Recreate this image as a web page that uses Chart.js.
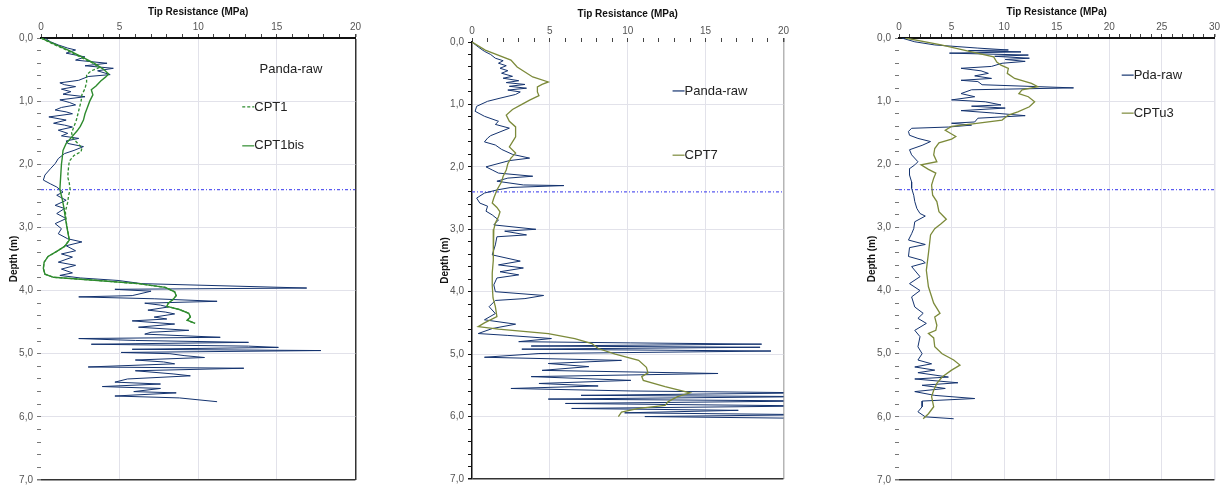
<!DOCTYPE html>
<html>
<head>
<meta charset="utf-8">
<script src="https://cdn.jsdelivr.net/npm/chart.js@4.4.1/dist/chart.umd.min.js"></script>
<style>
  html, body { margin: 0; padding: 0; background: #fff; }
  body { position: relative; width: 1223px; height: 491px; overflow: hidden; }
  canvas { position: absolute; top: 0; }
</style>
</head>
<body>
<canvas id="chart1" width="362" height="491" style="left:0px"></canvas>
<canvas id="chart2" width="359" height="491" style="left:431px"></canvas>
<canvas id="chart3" width="363" height="491" style="left:858px"></canvas>
<script>
// each entry: [depth (m), tip resistance (MPa)]
const waterDepth = 2.4;

// panel 1
const p1Panda = [
  [0.00, 0.25], [0.06, 0.6], [0.11, 1.1], [0.16, 1.7], [0.19, 2.2], [0.24, 1.6], [0.30, 2.8], [0.35, 2.2],
  [0.40, 4.2], [0.44, 2.8], [0.48, 4.6], [0.52, 3.6], [0.58, 4.4], [0.61, 3.0], [0.67, 2.4], [0.71, 1.2],
  [0.74, 1.5], [0.77, 2.2], [0.81, 1.3], [0.85, 1.9], [0.89, 1.4], [0.93, 2.8], [0.98, 1.2], [1.02, 1.8],
  [1.06, 2.2], [1.10, 1.3], [1.14, 0.9], [1.17, 1.6], [1.20, 2.0], [1.25, 0.5], [1.30, 1.6], [1.35, 0.8],
  [1.38, 1.5], [1.41, 2.0], [1.46, 1.1], [1.51, 1.7], [1.55, 1.3], [1.59, 2.4], [1.63, 1.6], [1.67, 1.7],
  [1.72, 2.7], [1.78, 2.1], [1.83, 1.5], [1.91, 1.1], [1.99, 0.9], [2.07, 0.6], [2.17, 0.25], [2.25, 0.15],
  [2.31, 0.6], [2.36, 1.0], [2.44, 1.4], [2.49, 1.0], [2.57, 1.6], [2.65, 0.9], [2.70, 1.5], [2.78, 1.0],
  [2.86, 1.6], [2.94, 0.9], [3.02, 1.3], [3.10, 1.1], [3.18, 1.7], [3.23, 2.6], [3.29, 1.6], [3.37, 2.2],
  [3.42, 1.3], [3.47, 2.0], [3.55, 1.1], [3.60, 2.2], [3.66, 1.3], [3.72, 2.0], [3.76, 1.2], [3.80, 2.5],
  [3.84, 4.9], [3.89, 6.4], [3.96, 16.9], [3.98, 4.7], [4.01, 7.0], [4.08, 5.8], [4.10, 2.4], [4.13, 7.2],
  [4.17, 11.2], [4.20, 6.6], [4.23, 7.6], [4.26, 8.1], [4.31, 6.8], [4.34, 7.9], [4.37, 8.5], [4.42, 7.2],
  [4.45, 8.0], [4.48, 5.8], [4.53, 8.5], [4.58, 6.2], [4.63, 9.4], [4.66, 7.0], [4.69, 6.6], [4.74, 11.4],
  [4.76, 2.4], [4.79, 6.0], [4.82, 13.2], [4.85, 3.2], [4.88, 13.2], [4.90, 15.1], [4.93, 5.8], [4.95, 17.8],
  [4.98, 5.1], [5.00, 8.2], [5.03, 9.1], [5.06, 10.4], [5.10, 6.0], [5.13, 7.8], [5.16, 8.5], [5.21, 3.0],
  [5.23, 12.9], [5.27, 6.0], [5.32, 8.4], [5.35, 9.5], [5.40, 5.5], [5.45, 4.7], [5.48, 7.6], [5.52, 3.9],
  [5.55, 7.6], [5.60, 5.9], [5.62, 8.6], [5.67, 4.7], [5.70, 8.8], [5.76, 11.2]
];
const p1Cpt1 = [
  [0.00, 0.0], [0.10, 0.8], [0.20, 1.7], [0.30, 2.5], [0.40, 3.3], [0.47, 3.7], [0.52, 3.2], [0.58, 2.9],
  [0.70, 2.9], [0.80, 2.8], [0.90, 2.6], [1.00, 2.55], [1.10, 2.45], [1.20, 2.35], [1.30, 2.25], [1.40, 2.1],
  [1.50, 1.95], [1.58, 2.0], [1.66, 2.3], [1.74, 2.6], [1.80, 2.55], [1.86, 2.1], [1.95, 1.8], [2.05, 1.75],
  [2.20, 1.7], [2.30, 1.8], [2.40, 1.85], [2.50, 1.75], [2.60, 1.7], [2.75, 1.55], [2.90, 1.6], [3.05, 1.7],
  [3.20, 1.8], [3.30, 1.5], [3.38, 1.0], [3.46, 0.45], [3.55, 0.2], [3.65, 0.15], [3.74, 0.25], [3.79, 0.8],
  [3.84, 3.6], [3.89, 6.2], [3.95, 7.9], [4.02, 8.5], [4.08, 8.6], [4.14, 8.4], [4.20, 8.1], [4.25, 8.0],
  [4.30, 8.8], [4.36, 9.4], [4.42, 9.5], [4.47, 9.3], [4.52, 9.8]
];
const p1Cpt1bis = [
  [0.00, 0.0], [0.10, 0.9], [0.20, 1.8], [0.30, 2.6], [0.40, 3.4], [0.50, 4.0], [0.57, 4.3], [0.62, 4.1],
  [0.68, 3.8], [0.76, 3.5], [0.82, 3.2], [0.90, 3.3], [1.00, 3.1], [1.10, 2.95], [1.20, 2.8], [1.30, 2.7],
  [1.40, 2.5], [1.47, 2.3], [1.57, 1.95], [1.67, 1.6], [1.78, 1.4], [1.90, 1.35], [2.00, 1.3], [2.20, 1.25],
  [2.40, 1.2], [2.55, 1.35], [2.68, 1.45], [2.85, 1.55], [3.00, 1.65], [3.20, 1.8], [3.30, 1.5], [3.38, 1.0],
  [3.46, 0.45], [3.55, 0.2], [3.65, 0.15], [3.74, 0.25], [3.79, 0.8], [3.84, 3.6], [3.89, 6.2], [3.95, 7.9],
  [4.02, 8.5], [4.08, 8.6], [4.14, 8.4], [4.20, 8.1], [4.25, 8.0], [4.30, 8.8], [4.36, 9.4], [4.42, 9.5],
  [4.47, 9.3], [4.52, 9.8]
];

// panel 2
const p2Panda = [
  [0.00, 0.0], [0.08, 0.4], [0.15, 0.8], [0.20, 1.2], [0.26, 1.5], [0.30, 2.0], [0.34, 1.7], [0.38, 2.2],
  [0.42, 1.8], [0.46, 2.3], [0.50, 1.9], [0.55, 2.6], [0.58, 2.0], [0.62, 3.0], [0.65, 2.2], [0.68, 3.4],
  [0.71, 2.4], [0.74, 3.5], [0.77, 2.3], [0.80, 3.1], [0.84, 2.8], [0.90, 1.8], [0.95, 1.0], [1.03, 0.3],
  [1.11, 0.2], [1.19, 0.8], [1.27, 1.7], [1.32, 1.5], [1.38, 2.4], [1.44, 1.8], [1.50, 1.2], [1.54, 1.0],
  [1.60, 0.8], [1.65, 1.5], [1.72, 1.9], [1.80, 2.6], [1.86, 3.7], [1.90, 2.4], [2.00, 0.9], [2.05, 1.3],
  [2.10, 1.7], [2.15, 3.9], [2.18, 2.3], [2.23, 1.6], [2.29, 3.3], [2.30, 5.9], [2.33, 2.5], [2.37, 1.6],
  [2.42, 0.8], [2.50, 0.3], [2.58, 0.5], [2.63, 1.0], [2.71, 0.9], [2.77, 1.3], [2.85, 1.7], [2.93, 1.4],
  [3.00, 4.1], [3.03, 2.1], [3.09, 3.5], [3.12, 1.6], [3.25, 1.5], [3.41, 1.3], [3.51, 3.1], [3.57, 1.7],
  [3.62, 3.3], [3.68, 1.8], [3.73, 3.0], [3.78, 1.6], [3.89, 1.4], [4.00, 1.5], [4.06, 4.6], [4.11, 3.4],
  [4.14, 1.5], [4.24, 1.1], [4.35, 1.5], [4.45, 0.8], [4.52, 2.8], [4.59, 1.3], [4.67, 0.4], [4.70, 2.3],
  [4.75, 5.1], [4.80, 3.0], [4.82, 10.2], [4.84, 18.6], [4.87, 3.8], [4.89, 18.5], [4.92, 3.2], [4.95, 19.2],
  [4.99, 4.3], [5.05, 0.8], [5.10, 9.6], [5.15, 4.9], [5.20, 7.5], [5.26, 4.5], [5.31, 15.8], [5.36, 3.8],
  [5.42, 10.2], [5.47, 4.3], [5.51, 8.1], [5.55, 2.5], [5.59, 10.2], [5.62, 22], [5.66, 7.0], [5.68, 22],
  [5.72, 4.9], [5.75, 22], [5.79, 6.0], [5.83, 22], [5.87, 6.4], [5.90, 17.1], [5.94, 9.8], [5.97, 22],
  [6.00, 11.1], [6.03, 22]
];
const p2Cpt7 = [
  [0.00, 0.0], [0.13, 0.85], [0.29, 2.5], [0.40, 2.9], [0.56, 3.9], [0.64, 4.9], [0.68, 4.5], [0.72, 4.2],
  [0.80, 4.2], [0.86, 4.3], [0.93, 3.7], [1.00, 3.2], [1.08, 2.6], [1.17, 2.2], [1.27, 2.4], [1.36, 2.8],
  [1.45, 2.8], [1.52, 2.8], [1.60, 2.6], [1.68, 2.4], [1.78, 2.8], [1.86, 2.5], [1.95, 2.3], [2.05, 2.2],
  [2.15, 2.0], [2.24, 1.9], [2.37, 1.6], [2.50, 1.4], [2.58, 1.3], [2.65, 1.6], [2.72, 1.8], [2.80, 1.7],
  [2.90, 1.5], [3.00, 1.4], [3.15, 1.4], [3.30, 1.35], [3.50, 1.35], [3.70, 1.3], [3.90, 1.3], [4.10, 1.35],
  [4.24, 1.5], [4.40, 1.6], [4.50, 0.8], [4.56, 0.4], [4.60, 1.7], [4.67, 4.9], [4.75, 6.6], [4.83, 7.7],
  [4.91, 8.1], [5.00, 9.2], [5.10, 10.7], [5.21, 11.2], [5.30, 11.3], [5.36, 10.9], [5.42, 11.0], [5.52, 12.4],
  [5.62, 14.0], [5.68, 13.2], [5.76, 12.6], [5.82, 12.4], [5.87, 10.7], [5.93, 9.6], [6.00, 9.4]
];

// panel 3
const p3Pda = [
  [0.00, 0.25], [0.06, 1.5], [0.11, 3.4], [0.16, 7.5], [0.19, 10.4], [0.20, 6.6], [0.22, 11.6], [0.24, 4.8],
  [0.27, 12.3], [0.29, 9.1], [0.32, 12.4], [0.34, 10.1], [0.37, 12.0], [0.40, 9.8], [0.45, 8.8], [0.48, 5.9],
  [0.52, 7.8], [0.56, 8.5], [0.60, 7.2], [0.64, 8.8], [0.67, 5.9], [0.69, 7.5], [0.74, 7.9], [0.79, 16.6],
  [0.82, 6.9], [0.88, 5.9], [0.93, 7.2], [0.98, 5.0], [1.01, 8.2], [1.06, 9.7], [1.08, 6.9], [1.11, 10.1],
  [1.15, 5.9], [1.19, 9.1], [1.23, 12.0], [1.27, 7.5], [1.33, 7.2], [1.35, 5.0], [1.38, 6.9], [1.41, 4.7],
  [1.43, 1.2], [1.48, 0.9], [1.54, 1.0], [1.59, 1.8], [1.64, 3.0], [1.70, 2.2], [1.77, 1.0], [1.85, 1.2],
  [1.96, 1.8], [2.01, 1.5], [2.07, 1.0], [2.17, 1.0], [2.28, 1.2], [2.38, 1.2], [2.49, 1.4], [2.59, 1.5],
  [2.70, 1.7], [2.78, 2.0], [2.82, 2.5], [2.91, 1.5], [3.02, 1.4], [3.10, 1.2], [3.20, 0.9], [3.27, 2.5],
  [3.32, 1.0], [3.46, 0.9], [3.52, 2.2], [3.56, 2.5], [3.62, 1.2], [3.78, 2.0], [3.89, 1.0], [4.00, 2.0],
  [4.10, 1.2], [4.26, 1.5], [4.36, 2.3], [4.44, 1.8], [4.52, 2.6], [4.63, 1.5], [4.73, 2.0], [4.89, 1.8],
  [5.00, 2.2], [5.10, 1.8], [5.16, 3.1], [5.21, 1.5], [5.26, 3.4], [5.30, 1.8], [5.37, 4.7], [5.40, 1.5],
  [5.46, 5.6], [5.50, 2.2], [5.55, 4.4], [5.60, 1.5], [5.66, 3.4], [5.71, 7.2], [5.75, 2.2], [5.84, 2.2],
  [5.92, 1.8], [6.00, 2.5], [6.03, 5.2]
];
const p3Cptu3 = [
  [0.00, 0.6], [0.11, 4.0], [0.22, 6.9], [0.30, 9.0], [0.38, 9.3], [0.43, 9.7], [0.48, 10.4], [0.56, 10.3],
  [0.64, 11.0], [0.72, 12.6], [0.77, 13.2], [0.82, 11.7], [0.88, 11.4], [0.93, 12.3], [1.01, 12.9], [1.09, 12.4],
  [1.17, 11.3], [1.22, 10.4], [1.30, 9.8], [1.36, 7.0], [1.40, 5.0], [1.46, 4.4], [1.52, 5.0], [1.56, 5.4],
  [1.60, 5.0], [1.66, 3.8], [1.75, 3.4], [1.85, 3.3], [1.96, 3.6], [2.01, 2.1], [2.08, 2.8], [2.14, 3.5],
  [2.22, 3.3], [2.33, 3.1], [2.49, 3.2], [2.59, 3.6], [2.75, 3.8], [2.87, 4.5], [2.94, 4.0], [3.02, 3.4],
  [3.12, 3.0], [3.41, 2.8], [3.68, 2.6], [3.94, 2.8], [4.20, 3.3], [4.36, 3.9], [4.42, 3.4], [4.55, 3.6],
  [4.63, 3.5], [4.68, 2.8], [4.75, 3.3], [4.89, 3.4], [5.00, 4.1], [5.10, 5.2], [5.18, 5.8], [5.26, 5.0],
  [5.37, 4.1], [5.47, 3.6], [5.58, 3.3], [5.68, 3.1], [5.84, 3.3], [5.95, 2.8], [6.03, 2.3]
];

const FONT = '"Liberation Sans", Arial, sans-serif';
Chart.defaults.font.family = FONT;

const pandaColor = '#14336f';
const greenColor = '#2e8b2e';
const oliveColor = '#7c8a3a';
const waterColor = '#5a5af0';

const toPoints = arr => arr.map(p => ({ x: p[1], y: p[0] }));
const isWhole = v => Math.abs(v - Math.round(v)) < 1e-6;

const inlineLegend = {
    id: 'inlineLegend',
    afterDraw(chart, args, opts) {
        const { ctx, chartArea: a } = chart;
        ctx.save();
        ctx.font = '13px ' + FONT;
        ctx.textBaseline = 'middle';
        opts.items.forEach(it => {
            const ds = chart.data.datasets[it.ds];
            const x = a.left + it.fx * a.width;
            const y = a.top + it.fy * a.height;
            let tx = x;
            if (it.sample) {
                ctx.strokeStyle = ds.borderColor;
                ctx.lineWidth = 1.2;
                ctx.setLineDash(ds.borderDash || []);
                ctx.beginPath();
                ctx.moveTo(x, y);
                ctx.lineTo(x + 12, y);
                ctx.stroke();
                ctx.setLineDash([]);
                tx = x + 12;
            }
            ctx.fillStyle = '#222';
            ctx.fillText(ds.label, tx, y);
        });
        ctx.restore();
    }
};

function createProfile(id, opt) {
    const xmax = opt.xmax;
    const datasets = opt.series.map(s => ({
        label: s.label,
        data: toPoints(s.data),
        borderColor: s.color,
        borderWidth: s.width,
        borderDash: s.dash || [],
        showLine: true,
        pointRadius: 0,
        tension: 0
    }));
    datasets.push({
        label: 'water',
        data: [{ x: 0, y: waterDepth }, { x: xmax, y: waterDepth }],
        borderColor: waterColor,
        borderWidth: 1.3,
        borderDash: [3, 2, 1, 2],
        showLine: true,
        pointRadius: 0
    });

    new Chart(document.getElementById(id), {
        type: 'scatter',
        data: { datasets: datasets },
        options: {
            responsive: false,
            animation: false,
            layout: { padding: { left: 0, right: 6, top: 0, bottom: opt.bottomPad } },
            plugins: {
                legend: { display: false },
                tooltip: { enabled: false },
                inlineLegend: { items: opt.legend }
            },
            scales: {
                x: {
                    type: 'linear',
                    position: 'top',
                    min: 0,
                    max: xmax,
                    afterFit: s => { s.height = opt.topHeight; },
                    title: {
                        display: true,
                        text: 'Tip Resistance (MPa)',
                        color: '#111',
                        font: { size: 10, weight: 'bold' },
                        padding: { top: opt.titleTop, bottom: 0 }
                    },
                    border: { display: opt.topBorder, color: '#111', width: 2 },
                    grid: {
                        color: c => {
                            const v = c.tick.value;
                            if (v === xmax) return opt.rightColor;
                            if (v > 0 && v % 5 === 0) return '#e2e2ea';
                            return 'rgba(0,0,0,0)';
                        },
                        tickColor: '#444',
                        tickLength: 4,
                        lineWidth: c => (c.tick.value === xmax ? 1.5 : 1)
                    },
                    ticks: {
                        stepSize: 1,
                        autoSkip: false,
                        maxRotation: 0,
                        padding: 1,
                        color: '#555',
                        font: { size: 10 },
                        callback: v => (v % 5 === 0 ? String(v) : '')
                    }
                },
                y: {
                    type: 'linear',
                    reverse: true,
                    min: 0,
                    max: 7,
                    afterFit: s => { s.width = 41; },
                    title: {
                        display: true,
                        text: 'Depth (m)',
                        color: '#111',
                        font: { size: 10, weight: 'bold' },
                        padding: { top: 8, bottom: 0 }
                    },
                    border: { display: opt.leftBorder, color: '#111', width: 1.5 },
                    grid: {
                        color: c => {
                            const v = c.tick.value;
                            if (Math.abs(v - 7) < 1e-6) return '#333';
                            if (v > 0.01 && isWhole(v)) return '#e2e2ea';
                            return 'rgba(0,0,0,0)';
                        },
                        lineWidth: c => (Math.abs(c.tick.value - 7) < 1e-6 ? 1.5 : 1),
                        tickColor: opt.leftBorder ? '#111' : '#777',
                        tickLength: 4
                    },
                    ticks: {
                        stepSize: 0.2,
                        autoSkip: false,
                        padding: 4,
                        color: '#555',
                        font: { size: 10 },
                        callback: v => (isWhole(v) ? Math.round(v).toFixed(1).replace('.', ',') : '')
                    }
                }
            }
        },
        plugins: [inlineLegend]
    });
}

createProfile('chart1', {
    xmax: 20, topHeight: 38, titleTop: 6, bottomPad: 11,
    topBorder: true, leftBorder: false, rightColor: '#333',
    series: [
        { label: 'CPT1bis', data: p1Cpt1bis, color: greenColor, width: 1.4 },
        { label: 'CPT1', data: p1Cpt1, color: greenColor, width: 1.3, dash: [3, 2] },
        { label: 'Panda-raw', data: p1Panda, color: pandaColor, width: 1 }
    ],
    legend: [
        { ds: 2, fx: 0.695, fy: 0.072, sample: false },
        { ds: 1, fx: 0.64, fy: 0.156, sample: true },
        { ds: 0, fx: 0.64, fy: 0.244, sample: true }
    ]
});

createProfile('chart2', {
    xmax: 20, topHeight: 42, titleTop: 8, bottomPad: 12,
    topBorder: false, leftBorder: true, rightColor: '#b5b5b5',
    series: [
        { label: 'CPT7', data: p2Cpt7, color: oliveColor, width: 1.3 },
        { label: 'Panda-raw', data: p2Panda, color: pandaColor, width: 1 }
    ],
    legend: [
        { ds: 1, fx: 0.644, fy: 0.112, sample: true },
        { ds: 0, fx: 0.644, fy: 0.259, sample: true }
    ]
});

createProfile('chart3', {
    xmax: 30, topHeight: 38, titleTop: 6, bottomPad: 11,
    topBorder: true, leftBorder: false, rightColor: '#e2e2ea',
    series: [
        { label: 'CPTu3', data: p3Cptu3, color: oliveColor, width: 1.3 },
        { label: 'Pda-raw', data: p3Pda, color: pandaColor, width: 1 }
    ],
    legend: [
        { ds: 1, fx: 0.706, fy: 0.084, sample: true },
        { ds: 0, fx: 0.706, fy: 0.17, sample: true }
    ]
});
</script>
</body>
</html>
